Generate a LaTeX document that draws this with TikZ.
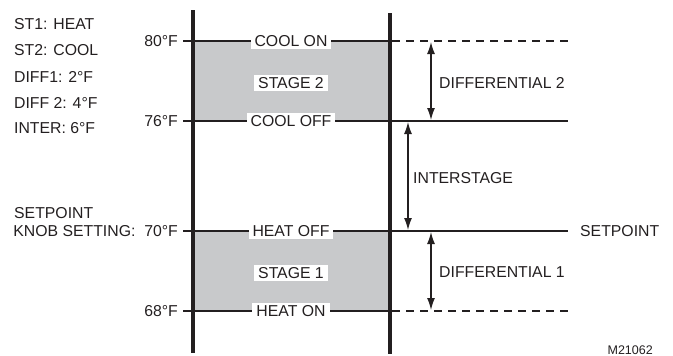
\documentclass[tikz,border=0pt]{standalone}
\usepackage{fontspec}
\setmainfont{Liberation Sans}
\usetikzlibrary{arrows.meta,positioning}
\definecolor{inkblack}{RGB}{35,31,32}
\definecolor{bandgray}{RGB}{200,201,203}

\begin{document}
\begin{tikzpicture}[x=1pt,y=-1pt,
    lbl/.style={font=\fontsize{15.8}{18}\selectfont, text=inkblack, inner sep=1pt},
    online/.style={lbl, fill=white, inner xsep=4pt, inner ysep=2pt},
    level/.style={draw=inkblack, line width=1.3pt},
    leveldash/.style={level, dash pattern=on 8pt off 6pt},
    bar/.style={draw=inkblack, line width=4.5pt},
    band/.style={fill=bandgray},
    dim/.style={{Latex[length=12pt,width=8pt]}-{Latex[length=12pt,width=8pt]}, draw=inkblack, line width=1.3pt}
]
    \useasboundingbox (0,0) rectangle (673,356);

    % shaded stages
    \fill[band] (193,41) rectangle (390,121);
    \fill[band] (193,231) rectangle (390,311);

    % level lines
    \coordinate (t80) at (183,41);  \coordinate (r80) at (392,41);  \coordinate (e80) at (568,41);
    \coordinate (t76) at (183,121); \coordinate (e76) at (568,121);
    \coordinate (t70) at (183,231); \coordinate (e70) at (568,231);
    \coordinate (t68) at (183,311); \coordinate (r68) at (392,311); \coordinate (e68) at (568,311);
    \draw[level] (t80) -- (r80);
    \draw[leveldash] (r80) -- (e80);
    \draw[level] (t76) -- (e76);
    \draw[level] (t70) -- (e70);
    \draw[level] (t68) -- (r68);
    \draw[leveldash] (r68) -- (e68);

    % thermostat bars
    \coordinate (lbtop) at (193,10);  \coordinate (lbbot) at (193,353);
    \coordinate (rbtop) at (390,13);  \coordinate (rbbot) at (390,354);
    \draw[bar] (lbtop) -- (lbbot);
    \draw[bar] (rbtop) -- (rbbot);

    % labels on the lines
    \node[online] (coolon)  at (291,41)  {COOL ON};
    \node[online] (stage2)  at (291,83)  {STAGE 2};
    \node[online] (cooloff) at (291,121) {COOL OFF};
    \node[online] (heatoff) at (291,231) {HEAT OFF};
    \node[online] (stage1)  at (291,273) {STAGE 1};
    \node[online] (heaton)  at (291,311) {HEAT ON};

    % temperatures
    \node[lbl, anchor=east] (f80) at (179,41)  {80°F};
    \node[lbl, anchor=east] (f76) at (179,121) {76°F};
    \node[lbl, anchor=east] (f70) at (179,231) {KNOB SETTING:\ \ 70°F};
    \node[lbl, anchor=west] (spk) at (13,213)  {SETPOINT};
    \node[lbl, anchor=east] (f68) at (179,311) {68°F};

    % settings list
    \node[lbl, anchor=west] (st1)   at (13,24)  {ST1: HEAT};
    \node[lbl, anchor=west] (st2)   at (13,50)  {ST2: COOL};
    \node[lbl, anchor=west] (diff1) at (13,77)  {DIFF1: 2°F};
    \node[lbl, anchor=west] (diff2) at (13,103) {DIFF 2: 4°F};
    \node[lbl, anchor=west] (inter) at (13,128) {INTER: 6°F};

    % differentials
    \coordinate (d2top) at (431,42);  \coordinate (d2bot) at (431,120);
    \coordinate (istop) at (408,122); \coordinate (isbot) at (408,230);
    \coordinate (d1top) at (431,232); \coordinate (d1bot) at (431,310);
    \draw[dim] (d2top) -- (d2bot);
    \draw[dim] (istop) -- (isbot);
    \draw[dim] (d1top) -- (d1bot);
    \node[lbl, anchor=west] (dl2) at (438,83)  {DIFFERENTIAL 2};
    \node[lbl, anchor=west] (isl) at (412,178) {INTERSTAGE};
    \node[lbl, anchor=west] (dl1) at (438,272) {DIFFERENTIAL 1};
    \node[lbl, anchor=west] (spr) at (579,231) {SETPOINT};

    \node[lbl, anchor=east, font=\fontsize{12.5}{15}\selectfont] (fig) at (654,350) {M21062};
\end{tikzpicture}
\end{document}
